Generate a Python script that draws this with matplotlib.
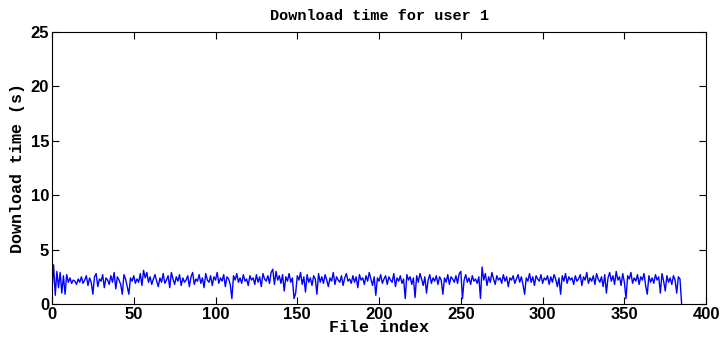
import numpy as np
import matplotlib.pyplot as plt

# download time (s) for each file, user 1
times = [
    1.2, 3.6, 0.8, 3.0, 1.5, 2.9, 1.0, 2.6, 0.9, 2.7, 2.0, 2.4, 1.9, 2.2, 2.1, 1.8, 2.3, 2.0, 2.5, 1.9,
    2.2, 2.6, 1.7, 2.4, 2.0, 0.9, 2.5, 2.8, 1.6, 2.3, 2.1, 2.7, 1.5, 2.4, 2.2, 1.8, 2.6, 2.0, 2.9, 1.4,
    2.5, 2.2, 1.8, 0.9, 2.7, 2.3, 1.6, 0.9, 2.4, 2.1, 2.6, 1.9, 2.3, 2.0, 2.8, 1.7, 3.1, 2.4, 2.9, 2.0,
    2.5, 1.8, 2.3, 2.7, 2.1, 1.6, 2.4, 2.0, 2.8, 1.9, 2.2, 2.6, 1.5, 2.9, 2.3, 1.8, 2.5, 2.1, 2.7, 1.7,
    2.4, 2.0, 2.2, 2.6, 1.6, 2.5, 2.9, 1.8, 2.3, 2.1, 2.7, 1.9, 2.4, 1.5, 2.8, 2.2, 2.0, 2.6, 1.7, 2.5,
    2.2, 2.9, 1.9, 2.4, 2.1, 2.7, 1.6, 2.5, 2.3, 1.8, 0.5, 2.6, 2.2, 2.8, 2.0, 2.4, 1.9, 2.7, 2.1, 2.3,
    1.7, 2.6, 2.2, 2.4, 1.8, 2.7, 2.0, 2.5, 1.6, 2.8, 2.3, 2.1, 2.6, 1.9, 2.9, 3.2, 1.8, 3.0, 2.2, 2.6,
    1.9, 2.7, 1.2, 2.5, 2.1, 2.8, 2.0, 2.4, 0.5, 1.0, 2.6, 2.2, 2.9, 1.8, 2.5, 1.1, 2.7, 2.0, 2.4, 1.7,
    2.6, 2.3, 0.9, 2.8, 2.0, 2.5, 1.9, 2.7, 2.2, 1.6, 2.4, 2.1, 2.9, 1.8, 2.5, 2.2, 2.0, 2.6, 1.7, 2.4,
    2.8, 2.1, 2.3, 1.9, 2.6, 2.0, 2.5, 1.5, 2.7, 2.2, 2.4, 1.8, 2.6, 2.1, 2.9, 2.3, 1.7, 2.5, 0.8, 2.4,
    2.1, 2.7, 1.9, 2.3, 2.6, 1.8, 2.5, 2.2, 2.0, 2.8, 1.6, 2.4, 2.1, 2.6, 1.9, 2.3, 0.5, 2.7, 2.2, 2.5,
    1.8, 2.4, 0.6, 2.6, 2.0, 2.8, 2.3, 1.7, 2.5, 1.0, 2.2, 2.7, 1.9, 2.4, 2.1, 2.6, 1.8, 2.5, 2.2, 0.9,
    2.4, 2.0, 2.7, 1.8, 2.5, 2.3, 2.0, 2.6, 1.9, 2.8, 3.0, 0.5, 2.2, 2.7, 2.0, 2.4, 1.8, 2.6, 2.1, 2.3,
    1.9, 2.5, 0.5, 3.4, 2.2, 2.8, 1.7, 2.5, 2.0, 2.9, 2.3, 1.8, 2.6, 2.2, 2.4, 1.9, 2.7, 2.1, 2.5, 1.6,
    2.4, 2.2, 2.6, 1.9, 2.3, 2.7, 2.0, 2.5, 1.8, 0.9, 2.4, 2.1, 2.8, 2.0, 2.5, 1.7, 2.6, 2.3, 2.1, 2.7,
    1.9, 2.4, 2.2, 2.6, 1.8, 2.5, 2.0, 2.7, 2.3, 1.6, 2.4, 0.9, 2.6, 2.1, 2.8, 1.9, 2.5, 2.2, 2.4, 1.8,
    2.6, 2.1, 2.3, 2.7, 1.7, 2.5, 2.2, 2.9, 1.9, 2.4, 2.1, 2.6, 1.8, 2.8, 2.3, 2.0, 2.5, 1.6, 2.7, 1.0,
    2.4, 2.9, 2.1, 2.6, 1.8, 3.0, 2.2, 2.5, 1.7, 2.8, 2.0, 0.5, 2.6, 2.3, 2.9, 1.9, 2.4, 2.1, 2.7, 1.8,
    2.5, 2.2, 2.8, 1.7, 0.9, 2.6, 2.0, 2.4, 1.9, 2.7, 2.2, 2.5, 1.0, 2.8, 2.1, 1.2, 2.6, 2.0, 2.4, 1.8,
    2.6, 2.2, 1.0, 2.5, 2.3, 0.0,
]
file_idx = np.arange(len(times))

xticks = [0, 50, 100, 150, 200, 250, 300, 350, 400]
yticks = [0, 5, 10, 15, 20, 25]

mono = ['Liberation Mono', 'DejaVu Sans Mono']
title_font = dict(family=mono, weight='bold', size=11)
lab_font = dict(family=mono, weight='bold', size=12)

fig = plt.figure(figsize=(7.25, 3.39), dpi=100)
ax = fig.add_axes([0.0717, 0.1032, 0.9023, 0.8024])
ax.plot(file_idx, times, color='blue', linewidth=1.0)

ax.set_xlim(0, 400)
ax.set_ylim(0, 25)
ax.set_xticks(xticks)
ax.set_yticks(yticks)
ax.tick_params(direction='in', top=True, right=True, length=5, width=0.8, pad=2)
for lab in ax.get_xticklabels() + ax.get_yticklabels():
    lab.set_fontfamily(['Liberation Sans Narrow', 'Liberation Sans', 'DejaVu Sans'])
    lab.set_fontweight('bold')
    lab.set_fontsize(12)

ax.set_title('Download time for user 1', fontdict=title_font, pad=9)
ax.set_xlabel('File index', fontdict=lab_font, labelpad=-1)
ax.set_ylabel('Download time (s)', fontdict=lab_font, labelpad=4)

fig.savefig('out.png', dpi=100)
